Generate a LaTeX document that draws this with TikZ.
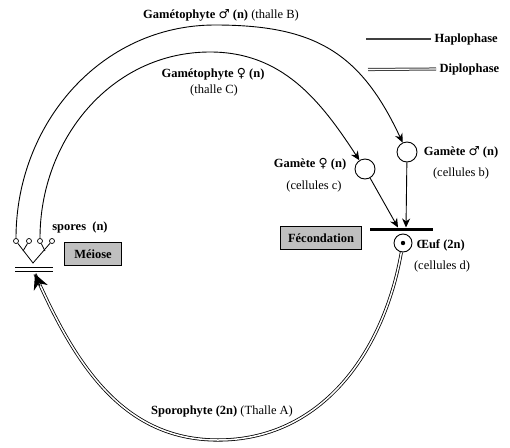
\documentclass[tikz,border=0pt]{standalone}
\usepackage{fontspec}
\setmainfont{Liberation Serif}
\newfontfamily\symfont{DejaVu Sans}
\usetikzlibrary{arrows.meta}

\newcommand{\malesym}{{\symfont\mdseries ♂}}
\newcommand{\femsym}{{\symfont\mdseries ♀}}

\begin{document}
\begin{tikzpicture}[x=1pt, y=1pt, font=\fontsize{12.5}{14}\selectfont,
  phase/.style={line width=0.9pt},
  diplo/.style={double, double distance=1.5pt, line width=0.8pt},
  tip/.style={-{Stealth[length=9pt, width=8pt]}},
  bigtip/.style={line width=1pt, -{Stealth[length=15pt, width=15pt, inset=5pt]}},
  cell/.style={draw, circle, line width=0.9pt, minimum size=20pt, inner sep=0pt},
  spore/.style={draw, circle, line width=0.7pt, minimum size=5pt, inner sep=0pt},
  stage/.style={draw, fill=black!25, font=\fontsize{12.5}{14}\selectfont\bfseries, minimum height=23pt, inner xsep=7pt}]

\useasboundingbox (0,0) rectangle (510,-447);

% legend
\node[anchor=west, font=\fontsize{12.5}{14}\selectfont\bfseries] (haplo) at (431,-39) {Haplophase};
\node[anchor=west, font=\fontsize{12.5}{14}\selectfont\bfseries] (diplo) at (436,-69) {Diplophase};
\coordinate (haplo-start) at (366,-39);
\coordinate (diplo-start) at (368,-69.5);
\draw[line width=1.3pt, black!75] (haplo-start) -- (haplo.west);
\draw[double, double distance=1.1pt, line width=1pt, black!75] (diplo-start) -- (diplo.west);

% spores and meiose
\node[spore] (sp1) at (16,-241) {};
\node[spore] (sp2) at (29,-241) {};
\node[spore] (sp3) at (40,-241) {};
\node[spore] (sp4) at (52,-241) {};
\coordinate (apex) at (33,-263);
\coordinate (fork-l) at (23,-251);
\coordinate (fork-r) at (45,-251);
\draw[line width=0.8pt] (sp1) -- (apex) -- (sp4);
\draw[line width=0.8pt] (sp2) -- (fork-l);
\draw[line width=0.8pt] (sp3) -- (fork-r);
\coordinate (mei-a) at (15,-267);
\coordinate (mei-b) at (53,-267);
\coordinate (mei-c) at (15,-271);
\coordinate (mei-d) at (53,-271);
\draw[line width=0.9pt] (mei-a) -- (mei-b);
\draw[line width=0.9pt] (mei-c) -- (mei-d);
\coordinate (meiose-base) at (35,-274);
\coordinate (sporo-end) at (40,-286);
\node[font=\fontsize{12.5}{14}\selectfont\bfseries] (spores) at (80,-227) {spores~ (n)};
\node[stage, minimum width=57pt] (meiose) at (93,-254) {Méiose};

% gametes and fecondation
\node[cell] (gf) at (365,-169) {};
\node[cell] (gm) at (407,-152) {};
\node (gf-name) at (310,-164) {\textbf{Gamète \femsym{} (n)}};
\node (gf-cells) at (314,-186) {(cellules c)};
\node (gm-name) at (461,-152) {\textbf{Gamète \malesym{} (n)}};
\node (gm-cells) at (461,-173) {(cellules b)};
\node[fill, minimum width=63pt, minimum height=3pt, inner sep=0pt] (bar) at (401,-229) {};
\coordinate (meet-f) at (398,-227.5);
\coordinate (meet-m) at (406,-227.5);
\draw[phase, tip] (gf) -- (meet-f);
\draw[phase, tip] (gm) -- (meet-m);
\node[stage, minimum width=81pt] (fecond) at (321,-238) {Fécondation};
\node[cell, minimum size=18pt] (oeuf) at (403,-243) {};
\fill (oeuf.center) circle (2.2pt);
\node[anchor=west] (oeuf-name) at (413,-245) {\textbf{Œuf (2n)}};
\node (oeuf-cells) at (442,-266) {(cellules d)};

% thalles
\coordinate (topB) at (215,-25);
\coordinate (topC) at (210,-52);
\coordinate (sporo-low) at (218,-440);
\draw[phase, tip] (sp1) to[out=90, in=180] (topB) to[out=0, in=115, looseness=1.15] (gm);
\draw[phase, tip] (sp3) to[out=90, in=180] (topC) to[out=0, in=123] (gf);
\draw[diplo] (oeuf) to[out=-100, in=0] (sporo-low) to[out=180, in=-66] (meiose-base);
\draw[bigtip] (sporo-end) -- (meiose-base);

\node (titleB) at (221,-15) {\textbf{Gamétophyte \malesym{} (n)} (thalle B)};
\node (titleC) at (213,-74) {\textbf{Gamétophyte \femsym{} (n)}};
\node (thalleC) at (214,-90) {(thalle C)};
\node (sporo) at (222,-412) {\textbf{Sporophyte (2n)} (Thalle A)};

\end{tikzpicture}
\end{document}
